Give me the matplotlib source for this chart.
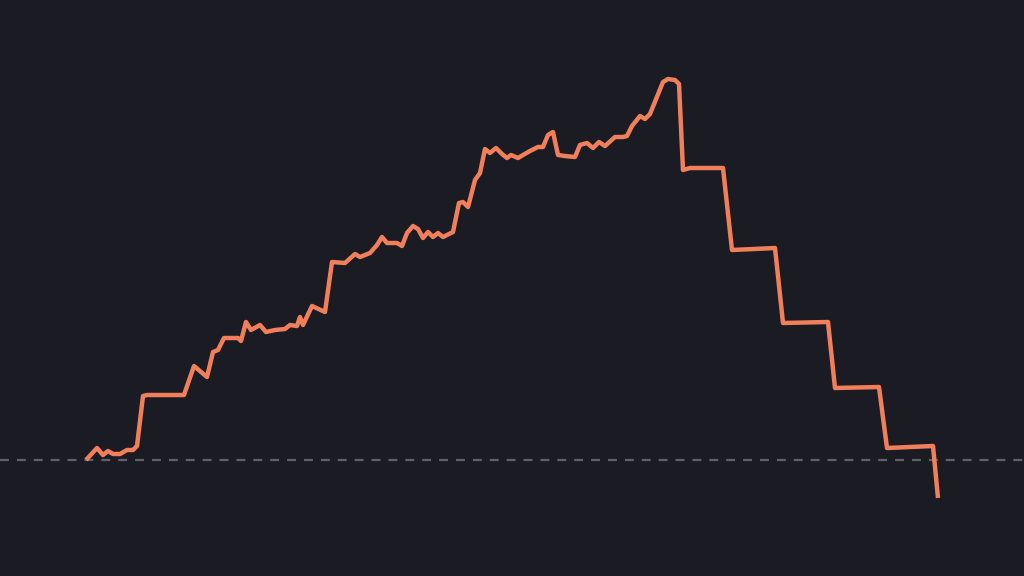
import matplotlib
matplotlib.use('Agg')
import matplotlib.pyplot as plt

# time index and level (relative to the zero / reference line)
t = [86, 97, 103, 108, 113, 120, 127, 133, 137, 143, 147, 184, 194, 207, 213, 218,
     224, 238, 241, 246, 251, 260, 266, 275, 285, 290, 297, 300, 303, 312, 325, 332,
     345, 355, 360, 370, 377, 382, 387, 397, 402, 407, 413, 418, 423, 428, 433, 438,
     443, 453, 459, 463, 468, 475, 480, 485, 490, 496, 502, 507, 511, 518, 523, 530,
     538, 543, 548, 553, 558, 565, 575, 580, 587, 593, 599, 605, 615, 623, 627, 632,
     640, 645, 650, 663, 668, 675, 679, 683, 690, 723, 732, 775, 783, 828, 835, 879,
     887, 933, 938]
y_px = [460, 448, 455, 451, 454, 454, 450, 450, 446, 396, 395, 395, 366, 377, 352, 350,
        338, 338, 341, 322, 330, 325, 332, 330, 329, 325, 326, 317, 325, 306, 312, 262,
        263, 254, 257, 253, 245, 237, 243, 243, 246, 233, 226, 229, 238, 232, 237, 233,
        237, 232, 203, 202, 207, 180, 173, 149, 153, 148, 154, 158, 155, 158, 155, 151,
        147, 147, 135, 132, 155, 156, 157, 145, 143, 148, 142, 146, 137, 137, 136, 126,
        116, 119, 114, 82, 79, 80, 84, 170, 168, 168, 250, 248, 323, 322, 388, 387,
        448, 446, 498]
baseline_px = 460
level = [baseline_px - v for v in y_px]

fig = plt.figure(figsize=(10.24, 5.76), dpi=100)
bg = '#1b1b24'
fig.patch.set_facecolor(bg)
ax = fig.add_axes([0, 0, 1, 1])
ax.set_facecolor(bg)

ax.axhline(0, color='#5f616b', lw=1.6, dashes=(4, 3.6))
ax.plot(t, level, color='#f07f5a', lw=3.2, solid_joinstyle='round',
        solid_capstyle='butt')

ax.set_xlim(0, 1024)
ax.set_ylim(baseline_px - 576, baseline_px)
ax.axis('off')

fig.savefig('out.png', dpi=100, facecolor=bg)
